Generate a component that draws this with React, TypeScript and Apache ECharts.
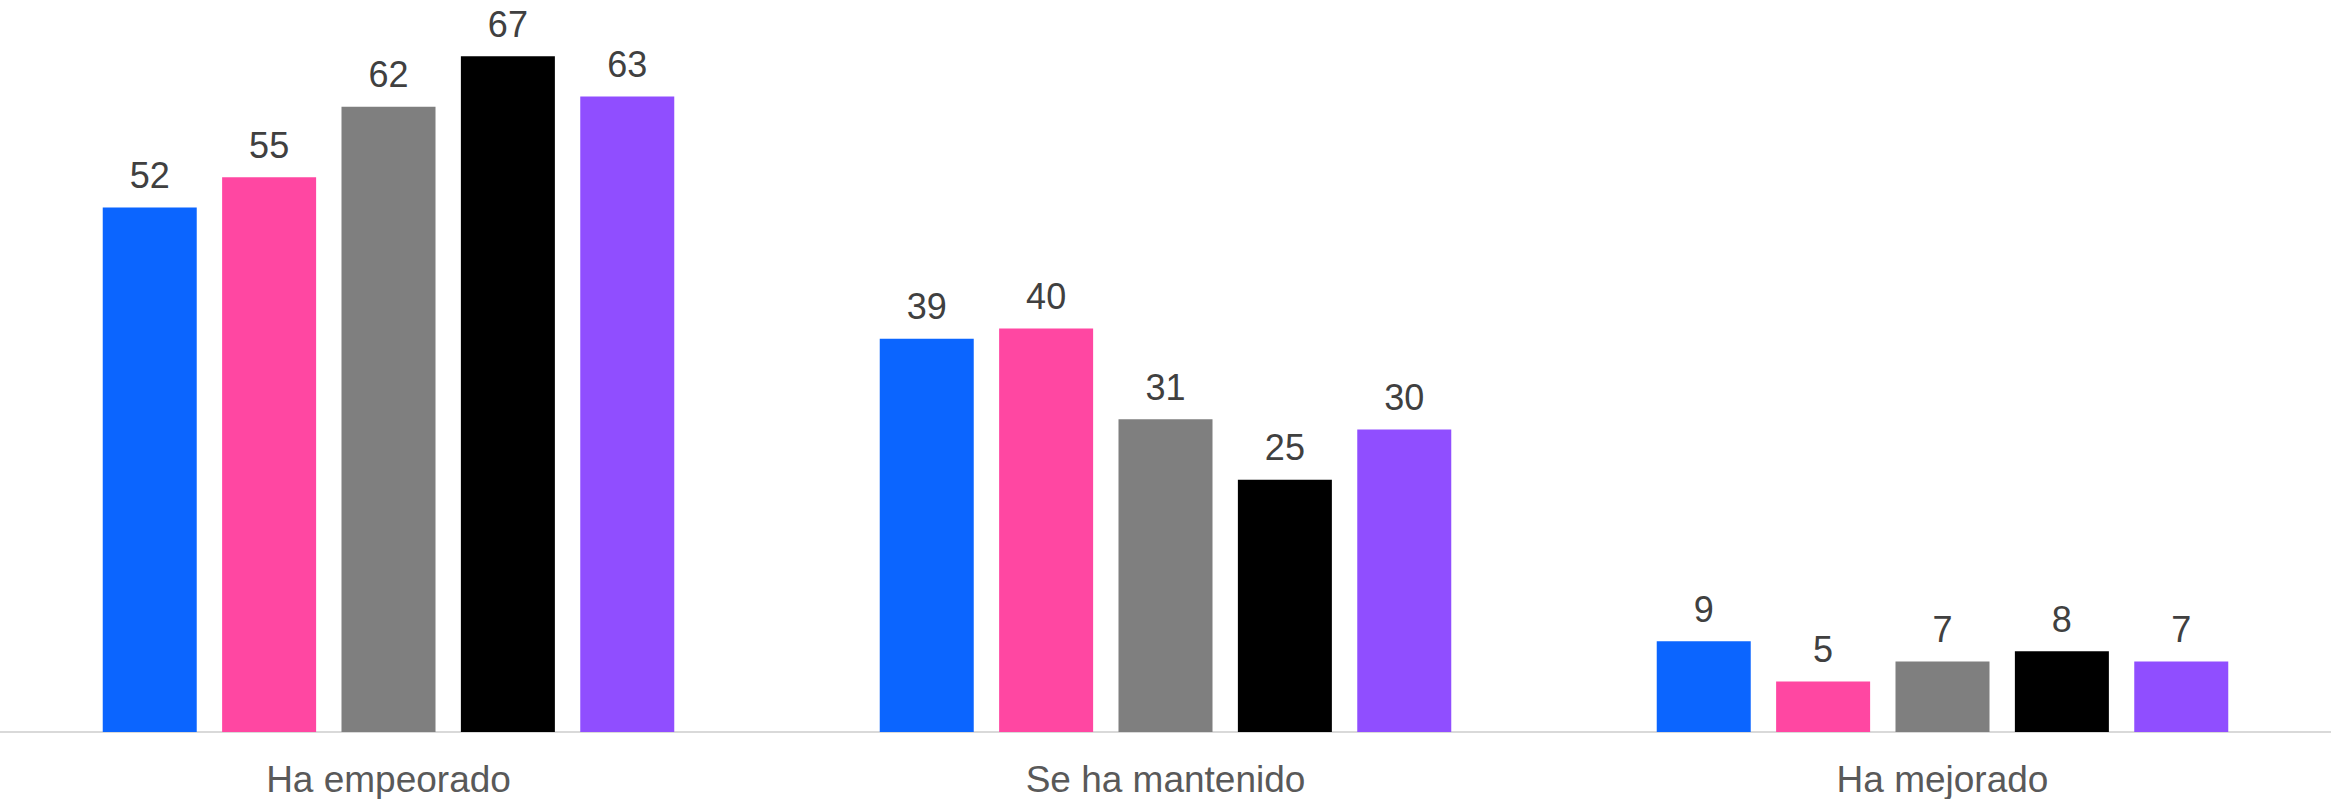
import React, { useEffect, useRef } from "react";
import * as echarts from "echarts";

const categories = ["Ha empeorado", "Se ha mantenido", "Ha mejorado"];
const seriesNames = ["Serie 1", "Serie 2", "Serie 3", "Serie 4", "Serie 5"];
const serie1 = [52, 39, 9];
const serie2 = [55, 40, 5];
const serie3 = [62, 31, 7];
const serie4 = [67, 25, 8];
const serie5 = [63, 30, 7];
const seriesValues = [serie1, serie2, serie3, serie4, serie5];
const colors = ["#0B65FF", "#FF47A2", "#7F7F7F", "#000000", "#904EFF"];

export default function App() {
  const ref = useRef<HTMLDivElement>(null);
  useEffect(() => {
    if (!ref.current) return;
    const chart = echarts.init(ref.current, null, { renderer: "svg" });
    chart.setOption({
      animation: false,
      backgroundColor: "#ffffff",
      textStyle: { fontFamily: "Liberation Sans, Arial, sans-serif" },
      grid: { left: 0, right: 0, top: 26, bottom: 67, containLabel: false },
      xAxis: {
        type: "category",
        data: categories,
        axisLine: { show: true, lineStyle: { color: "#d9d9d9", width: 2 } },
        axisTick: { show: false },
        axisLabel: { color: "#595959", fontSize: 37, margin: 29 },
      },
      yAxis: {
        type: "value",
        min: 0,
        max: 70,
        show: false,
        splitLine: { show: false },
      },
      series: seriesValues.map((vals, i) => ({
        name: seriesNames[i],
        type: "bar",
        data: vals,
        barWidth: 94,
        barGap: "27%",
        itemStyle: { color: colors[i] },
        label: {
          show: true,
          position: "top",
          distance: 14,
          color: "#404040",
          fontSize: 36,
        },
      })),
    });
    return () => chart.dispose();
  }, []);
  return (
    <div
      ref={ref}
      style={{ position: "fixed", left: 0, top: 0, width: 2331, height: 799 }}
    />
  );
}
